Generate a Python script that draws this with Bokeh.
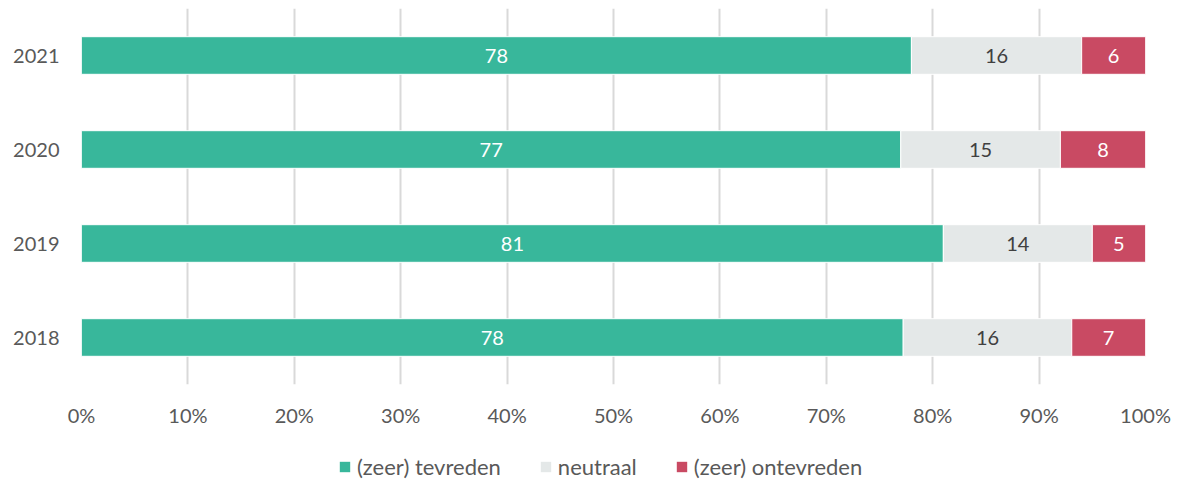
from bokeh.plotting import figure
from bokeh.layouts import column
from bokeh.models import ColumnDataSource, FactorRange, Range1d, FixedTicker, NumeralTickFormatter, Legend, LabelSet
from bokeh.core.properties import value
from bokeh.embed import file_html
from bokeh.resources import INLINE

years = ["2018", "2019", "2020", "2021"]
tevreden = [78, 81, 77, 78]
neutraal = [16, 14, 15, 16]
ontevreden = [7, 5, 8, 6]
series = ["(zeer) tevreden", "neutraal", "(zeer) ontevreden"]
colors = ["#38B79B", "#E4E8E8", "#C94A63"]
xticks = [0, 0.1, 0.2, 0.3, 0.4, 0.5, 0.6, 0.7, 0.8, 0.9, 1.0]

FONT = "Lato"
TXT = "#595959"
FS = "20px"

tot = [a + b + c for a, b, c in zip(tevreden, neutraal, ontevreden)]
t_n = [a / s for a, s in zip(tevreden, tot)]
n_n = [b / s for b, s in zip(neutraal, tot)]
o_n = [c / s for c, s in zip(ontevreden, tot)]

src = ColumnDataSource(dict(
    y=years, t=t_n, n=n_n, o=o_n,
    t_lab=[str(v) for v in tevreden],
    n_lab=[str(v) for v in neutraal],
    o_lab=[str(v) for v in ontevreden],
    t_x=[a / 2 for a in t_n],
    n_x=[a + b / 2 for a, b in zip(t_n, n_n)],
    o_x=[a + b + c / 2 for a, b, c in zip(t_n, n_n, o_n)],
))

W = 1178
p = figure(width=W, height=440, y_range=FactorRange(factors=years), x_range=Range1d(0, 1),
           output_backend="svg", toolbar_location=None,
           min_border_left=81, min_border_right=33, min_border_top=8, min_border_bottom=56)
p.outline_line_color = None

p.hbar_stack(["t", "n", "o"], y="y", height=0.40, color=colors, source=src,
             line_color="white", line_width=1)

for col, xcol, tc in [("t_lab", "t_x", "white"), ("n_lab", "n_x", "#404040"), ("o_lab", "o_x", "white")]:
    ls = LabelSet(x=xcol, y="y", text=col, source=src, text_align="center", text_baseline="middle",
                  text_font=value(FONT), text_font_size=value(FS), text_color=value(tc))
    p.add_layout(ls)

p.xaxis.ticker = FixedTicker(ticks=xticks)
p.xaxis.formatter = NumeralTickFormatter(format="0%")
for ax in (p.xaxis, p.yaxis):
    ax.axis_line_color = None
    ax.major_tick_line_color = None
    ax.minor_tick_line_color = None
    ax.major_tick_out = 0
    ax.major_tick_in = 0
    ax.major_label_text_font = FONT
    ax.major_label_text_font_size = FS
    ax.major_label_text_color = TXT
p.xaxis.major_label_standoff = 18
p.yaxis.major_label_standoff = 22

p.xgrid.grid_line_color = "#D9D9D9"
p.xgrid.grid_line_width = 2
p.ygrid.grid_line_color = None

# legend-only figure
lf = figure(width=W, height=40, y_range=FactorRange(factors=years), x_range=Range1d(0, 1),
            output_backend="svg", toolbar_location=None, x_axis_location=None, y_axis_location=None,
            min_border=0)
lf.outline_line_color = None
lf.xgrid.grid_line_color = None
lf.ygrid.grid_line_color = None
lrs = lf.hbar_stack(["t", "n", "o"], y="y", height=0.40, color=colors, source=src, line_color=None)
for r in lrs:
    r.visible = False

legend = Legend(items=[(s, [r]) for s, r in zip(series, lrs)], orientation="horizontal",
                location=(257, 0), label_text_font=FONT, label_text_font_size="22px",
                label_text_color=TXT, glyph_width=13, glyph_height=13, label_standoff=6,
                spacing=38, border_line_color=None, background_fill_alpha=0, margin=0, padding=0,
                inactive_fill_alpha=0)
lf.add_layout(legend, "center")

layout = column(p, lf, spacing=0)
open("out.html", "w").write(file_html(layout, INLINE))
